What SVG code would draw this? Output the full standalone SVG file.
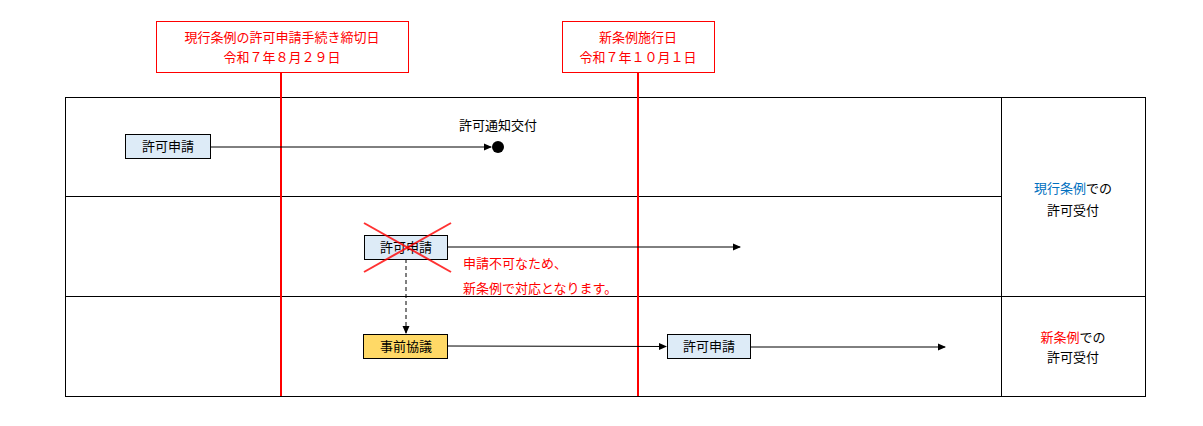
<svg xmlns="http://www.w3.org/2000/svg" width="1203" height="426" viewBox="0 0 1203 426">
<style>
text{font-family:"Noto Sans CJK JP","Liberation Sans",sans-serif;font-size:13px;text-anchor:middle}
.red{fill:#FF0000}
.blue{fill:#0070C0}
.node{fill:#DDEBF7;stroke:#000;stroke-width:1}
.grid{stroke:#000;stroke-width:1;fill:none}
.rl{stroke:#FF0000;stroke-width:2}
.conn{stroke:#000;stroke-width:1;fill:none}
</style>
<defs>
<marker id="ah" markerWidth="8" markerHeight="8" refX="7" refY="4" orient="auto" markerUnits="userSpaceOnUse"><path d="M0,0.5 L8,4 L0,7.5 Z" fill="#000"/></marker>
</defs>
<rect width="1203" height="426" fill="#fff"/>
<g id="table">
<rect class="grid" x="65.5" y="97.5" width="1080" height="299"/>
<line class="grid" x1="65" y1="196.5" x2="1001" y2="196.5"/>
<line class="grid" x1="65" y1="296.5" x2="1145" y2="296.5"/>
<line class="grid" x1="1001.5" y1="97" x2="1001.5" y2="396"/>
<text x="1073" y="193"><tspan class="blue">現行条例</tspan>での</text>
<text x="1073" y="215">許可受付</text>
<text x="1073" y="342"><tspan class="red">新条例</tspan>での</text>
<text x="1073" y="362">許可受付</text>
</g>
<g id="deadline">
<rect x="156.5" y="21.5" width="252" height="51" fill="#fff" stroke="#FF0000"/>
<text class="red" x="282" y="42">現行条例の許可申請手続き締切日</text>
<text class="red" x="282" y="62">令和７年８月２９日</text>
<line class="rl" x1="281" y1="72" x2="281" y2="396"/>
</g>
<g id="enforce">
<rect x="562.5" y="21.5" width="152" height="51" fill="#fff" stroke="#FF0000"/>
<text class="red" x="638" y="42">新条例施行日</text>
<text class="red" x="638" y="62">令和７年１０月１日</text>
<line class="rl" x1="638" y1="72" x2="638" y2="396"/>
</g>
<g id="connectors">
<line class="conn" x1="210" y1="147" x2="491" y2="147" marker-end="url(#ah)"/>
<line class="conn" x1="447" y1="247" x2="740" y2="247" marker-end="url(#ah)"/>
<line class="conn" x1="406" y1="259" x2="406" y2="333" stroke-dasharray="4,3" stroke="#444" marker-end="url(#ah)"/>
<line class="conn" x1="447" y1="346" x2="666" y2="346.5" stroke="#555" marker-end="url(#ah)"/>
<line class="conn" x1="750" y1="347" x2="945" y2="347" marker-end="url(#ah)"/>
</g>
<g id="n1"><rect class="node" x="125.5" y="134.5" width="85" height="24"/><text x="168" y="151">許可申請</text></g>
<g id="n2"><circle cx="498" cy="147" r="6" fill="#000"/><text x="498" y="130">許可通知交付</text></g>
<g id="n3"><rect class="node" x="364.5" y="235.5" width="83" height="24"/><text x="406" y="252">許可申請</text>
<line x1="364" y1="223" x2="451" y2="272" stroke="#FF0000" stroke-width="2" opacity="0.8"/>
<line x1="451" y1="223" x2="364" y2="272" stroke="#FF0000" stroke-width="2" opacity="0.8"/></g>
<g id="note"><text class="red" x="463" y="268" style="text-anchor:start">申請不可なため、</text><text class="red" x="463" y="293" style="text-anchor:start">新条例で対応となります。</text></g>
<g id="n4"><rect x="363.5" y="334.5" width="84" height="24" fill="#FFD966" stroke="#000"/><text x="406" y="351">事前協議</text></g>
<g id="n5"><rect class="node" x="667.5" y="334.5" width="83" height="24"/><text x="709" y="351">許可申請</text></g>
</svg>
